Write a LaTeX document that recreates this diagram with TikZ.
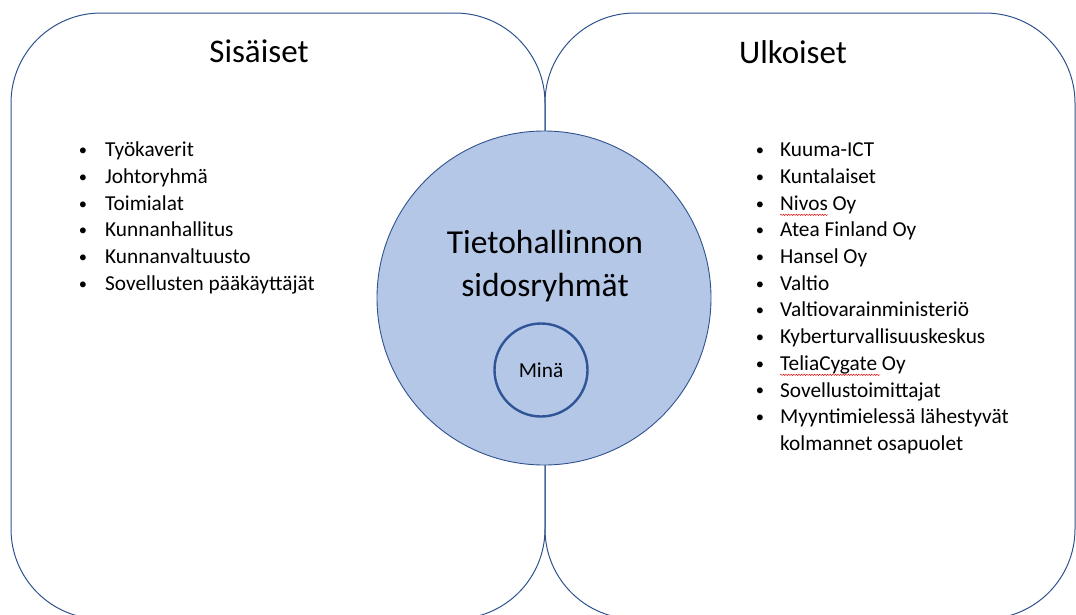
\documentclass[tikz,border=0pt]{standalone}
\usepackage{fontspec}
\setmainfont{Carlito}
\usetikzlibrary{positioning,decorations.pathmorphing}
\definecolor{edge}{RGB}{47,82,143}
\definecolor{hubfill}{RGB}{180,199,231}
\definecolor{ring}{RGB}{47,85,151}

\begin{document}
\begin{tikzpicture}[x=1pt, y=-1pt,
panel/.style ={rectangle, draw=edge, line width=1pt, rounded corners=90pt,
minimum height=606pt, inner sep=0pt},
hub/.style={circle, draw=edge, line width=0.9pt, fill=hubfill,
minimum size=334pt, inner sep=0pt},
hubtext/.style={anchor=base, align=center, inner sep=0pt,
font=\fontsize{33.5}{43}\selectfont},
me/.style={circle, draw=ring, line width=2.4pt, minimum size=93pt,
inner sep=0pt, font=\fontsize{21.3}{26}\selectfont},
title/.style={anchor=base, inner sep=0pt, font=\fontsize{33}{40}\selectfont},
item/.style={anchor=base west, inner sep=0pt, font=\fontsize{21.3}{26.7}\selectfont},
bul/.style={anchor=base, inner sep=0pt, font=\fontsize{16.5}{16.5}\selectfont},
squiggle/.style={draw=red!85!black, line width=0.45pt, decorate,
decoration={snake, segment length=2.6pt, amplitude=0.7pt}}
]
    \useasboundingbox (0,0) rectangle (1076,614);
    \clip (0,0) rectangle (1076,614);
    % the two halves
    \node[panel, minimum width=534pt] (sis) at (278,316) {};
    \node[panel, minimum width=530pt] (ulk) at (810,316) {};
    \node[title] (sistitle) at (259,62) {Sisäiset};
    \node[title] (ulktitle) at (793,63) {Ulkoiset};
    % middle
    \node[hub] (hub) at (544,298) {};
    \node[hubtext] (hubtxt) at (545,296) {Tietohallinnon\\sidosryhmät};
    \node[me] (me) at (541,370) {Minä};
    % lists
    \foreach \txt [count=\i] in {Työkaverit,Johtoryhmä,Toimialat,Kunnanhallitus,
    Kunnanvaltuusto,Sovellusten pääkäyttäjät} {
        \node[item] (int\i) at (105,{130.3+26.67*\i}) {\txt};
        \node[bul] (intb\i) [left=22pt of int\i.base west, anchor=base] {\raisebox{1.2pt}{\textbullet}};
    }
    \foreach \txt [count=\i] in {Kuuma-ICT,Kuntalaiset,Nivos Oy,Atea Finland Oy,
    Hansel Oy,Valtio,Valtiovarainministeriö,Kyberturvallisuuskeskus,
    TeliaCygate Oy,Sovellustoimittajat,Myyntimielessä lähestyvät} {
        \node[item] (ext\i) at (780,{130.3+26.67*\i}) {\txt};
        \node[bul] (extb\i) [left=20pt of ext\i.base west, anchor=base] {\raisebox{1.2pt}{\textbullet}};
    }
    \node[item] (extcont) at (780,{130.3+26.67*12}) {kolmannet osapuolet};
    \draw[squiggle] ([yshift=-4.5pt]ext3.base west) -- ++(48,0);
    \draw[squiggle] ([yshift=-4.5pt]ext9.base west) -- ++(100,0);
\end{tikzpicture}
\end{document}
